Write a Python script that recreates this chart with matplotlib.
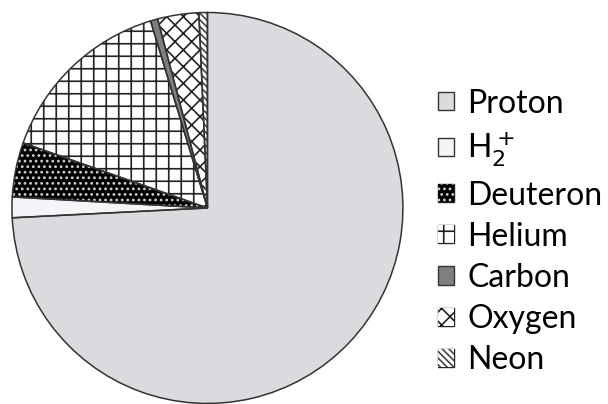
import matplotlib
matplotlib.use("Agg")
import matplotlib.pyplot as plt
from matplotlib.patches import Rectangle
from matplotlib.backend_bases import GraphicsContextBase

# ion species fractions (percent), clockwise from 12 o'clock
species = ["Proton", "H$_2^+$", "Deuteron", "Helium", "Carbon", "Oxygen", "Neon"]
fractions = [74.2, 1.7, 4.5, 14.9, 0.6, 3.4, 0.7]

faces = ["#dcdadf", "#f6f4f8", "black", "white", "#7f7f7f", "white", "white"]
hatch_cols = ["#444444", "#444444", "#d0d0d0", "#222222", "#444444", "#222222", "#444444"]
hatches = [None, None, "...", "+", None, "xx", "\\" * 5]

plt.rcParams["font.family"] = ["Lato", "DejaVu Sans"]
plt.rcParams["hatch.linewidth"] = 1.2

# the grid hatch in the reference is coarser than '++' but finer than '+'
_hatch_path = GraphicsContextBase.get_hatch_path
def _grid_hatch_path(self, density=6.0):
    if self.get_hatch() == "+":
        density = 8.6
    return _hatch_path(self, density)
GraphicsContextBase.get_hatch_path = _grid_hatch_path

fig = plt.figure(figsize=(6.08, 4.04), dpi=100)
ax = fig.add_axes([0.0197, 0.0012, 0.643, 0.968])

wedges, _ = ax.pie(fractions, startangle=90, counterclock=False,
                   colors=faces, wedgeprops=dict(linewidth=0))
for w, h, hc in zip(wedges, hatches, hatch_cols):
    if h:
        w.set_hatch(h)
        w.set_edgecolor(hc)
# outlines on top
ax.pie(fractions, startangle=90, counterclock=False,
       wedgeprops=dict(fill=False, edgecolor="#333333", linewidth=1.1))
ax.set_xlim(-1, 1)
ax.set_ylim(-1, 1)
ax.set_aspect("equal")

handles = []
for f, h, hc in zip(faces, hatches, hatch_cols):
    if h:
        # hatch is drawn in edge colour, so outline separately below
        handles.append(Rectangle((0, 0), 1, 1, facecolor=f, edgecolor=hc,
                                 hatch=h, linewidth=0))
    else:
        handles.append(Rectangle((0, 0), 1, 1, facecolor=f,
                                 edgecolor="#333333", linewidth=1.0))

leg = fig.legend(handles, species, loc="center left",
                 bbox_to_anchor=(0.720, 0.426), frameon=False,
                 borderpad=0, borderaxespad=0,
                 fontsize=23, handlelength=0.5, handleheight=0.5,
                 handletextpad=0.43, labelspacing=0.35)

fig.canvas.draw()
# dark borders around hatched legend squares
inv = fig.transFigure.inverted()
for patch in leg.get_patches():
    if patch.get_hatch():
        bb = patch.get_window_extent()
        (x0, y0), (x1, y1) = inv.transform([[bb.x0, bb.y0], [bb.x1, bb.y1]])
        fig.patches.append(Rectangle((x0, y0), x1 - x0, y1 - y0,
                                     transform=fig.transFigure, fill=False,
                                     edgecolor="#222222", linewidth=1.0))

fig.savefig("out.png", dpi=100)
